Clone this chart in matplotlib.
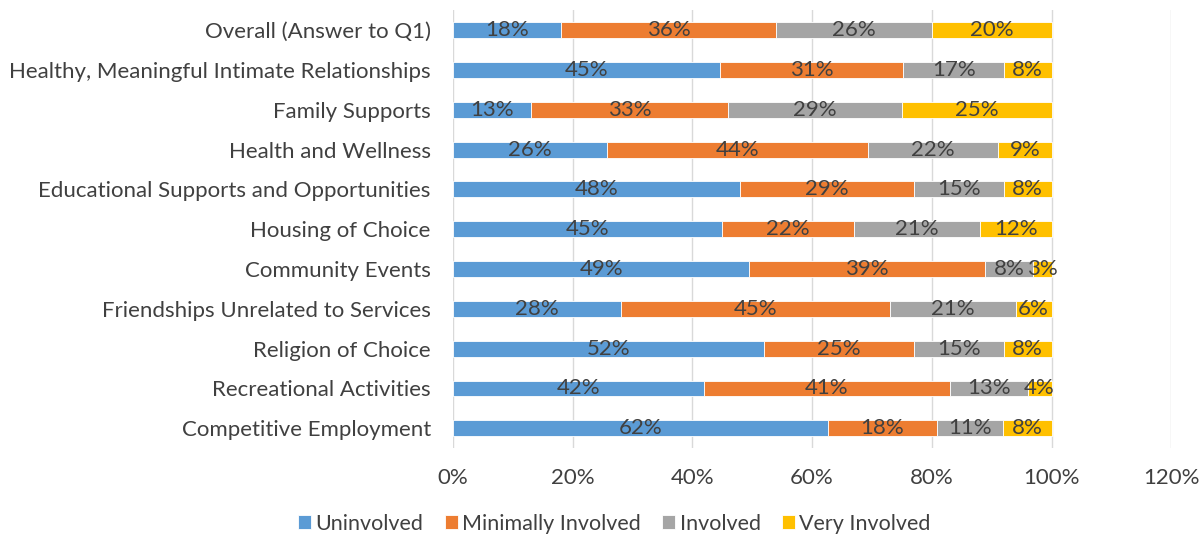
import numpy as np
import matplotlib.pyplot as plt

plt.rcParams['font.family'] = ['Lato', 'DejaVu Sans']

categories = ["Overall (Answer to Q1)",
              "Healthy, Meaningful Intimate Relationships",
              "Family Supports",
              "Health and Wellness",
              "Educational Supports and Opportunities",
              "Housing of Choice",
              "Community Events",
              "Friendships Unrelated to Services",
              "Religion of Choice",
              "Recreational Activities",
              "Competitive Employment"]

uninvolved = [18, 45, 13, 26, 48, 45, 49, 28, 52, 42, 62]
minimally = [36, 31, 33, 44, 29, 22, 39, 45, 25, 41, 18]
involved = [26, 17, 29, 22, 15, 21, 8, 21, 15, 13, 11]
very = [20, 8, 25, 9, 8, 12, 3, 6, 8, 4, 8]

series = ["Uninvolved", "Minimally Involved", "Involved", "Very Involved"]
colors = ["#5B9BD5", "#ED7D31", "#A5A5A5", "#FFC000"]

data = np.array([uninvolved, minimally, involved, very], dtype=float)
shares = data / data.sum(axis=0) * 100

fig = plt.figure(figsize=(12, 5.4), dpi=100)
ax = fig.add_axes([0.3775, 0.17, 0.5985, 0.811])

y = np.arange(len(categories))
left = np.zeros(len(categories))
for i, name in enumerate(series):
    bars = ax.barh(y, shares[i], left=left, height=0.4, color=colors[i],
                   edgecolor='white', linewidth=0.6, label=name, zorder=3)
    ax.bar_label(bars, labels=[f"{v}%" for v in data[i].astype(int)],
                 label_type='center', fontsize=16, color='#404040')
    left += shares[i]

ax.set_xlim(0, 120)
ax.set_ylim(len(categories) - 0.5, -0.5)
ax.set_xticks(np.arange(0, 121, 20))
ax.set_xticklabels([f"{t}%" for t in range(0, 121, 20)])
ax.set_yticks(y)
ax.set_yticklabels(categories)
ax.tick_params(axis='both', length=0, labelsize=16, labelcolor='#404040')
ax.tick_params(axis='x', pad=14)
ax.tick_params(axis='y', pad=16)
ax.grid(axis='x', color='#D9D9D9', linewidth=1, zorder=0)
for s in ax.spines.values():
    s.set_visible(False)

fig.legend(loc='center', bbox_to_anchor=(0.512, 0.03), ncol=4, frameon=False,
           fontsize=15.5, handlelength=0.6, handleheight=0.6, handletextpad=0.2,
           columnspacing=1.0, labelcolor='#404040')

fig.savefig("out.png")
